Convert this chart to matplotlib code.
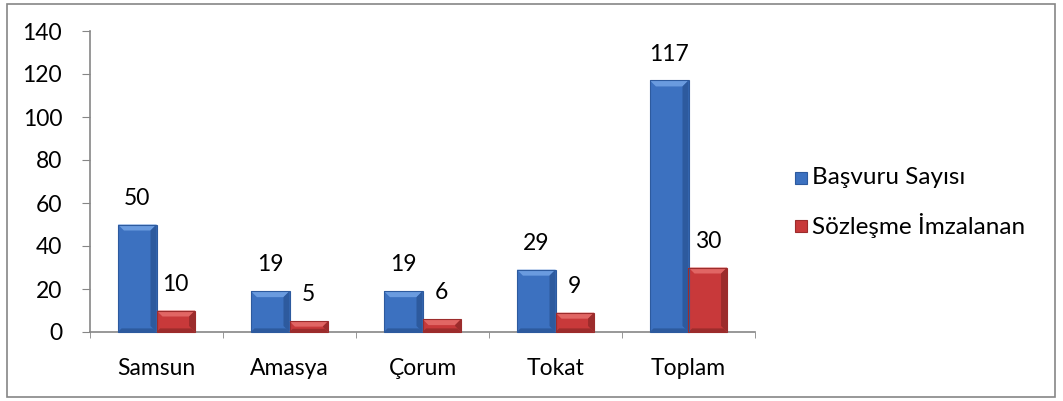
import numpy as np
import matplotlib.pyplot as plt
from matplotlib.patches import Polygon, Rectangle
from matplotlib.transforms import IdentityTransform

plt.rcParams['font.family'] = ['Lato', 'DejaVu Sans']

iller = ["Samsun", "Amasya", "Çorum", "Tokat", "Toplam"]
basvuru = [50, 19, 19, 29, 117]
sozlesme = [10, 5, 6, 9, 30]
seriler = ["Başvuru Sayısı", "Sözleşme İmzalanan"]
yticks = [0, 20, 40, 60, 80, 100, 120, 140]

# base, light (top bevel), dark (side bevel)
mavi = ("#3C71C0", "#6A9BDF", "#2D5A9E")
kirmizi = ("#C8393A", "#E16664", "#9C2C2C")
FS = 16.5

fig = plt.figure(figsize=(10.63, 4.01), dpi=100)
fig.patches.append(Rectangle((7 / 1063, 4 / 401), 1048 / 1063, 393 / 401,
                             transform=fig.transFigure, fill=False,
                             edgecolor="#868686", linewidth=1.2))
ax = fig.add_axes([90 / 1063, (401 - 332) / 401, 665 / 1063, 301 / 401])

x = np.arange(len(iller))
w = 0.29
b1 = ax.bar(x - w / 2, basvuru, w, color=mavi[0], zorder=2)
b2 = ax.bar(x + w / 2, sozlesme, w, color=kirmizi[0], zorder=2)

ax.set_xlim(-0.5, len(iller) - 0.5)
ax.set_ylim(0, 140)
ax.set_yticks(yticks)
ax.set_xticks(x)
ax.set_xticklabels(iller)
ax.set_xticks(np.arange(len(iller) + 1) - 0.5, minor=True)
ax.tick_params(axis="y", direction="out", length=6, color="#868686",
               labelsize=FS, pad=14)
ax.tick_params(axis="x", which="major", length=0, labelsize=FS, pad=19)
ax.tick_params(axis="x", which="minor", direction="out", length=4.5,
               color="#868686")
for s in ["top", "right"]:
    ax.spines[s].set_visible(False)
for s in ["left", "bottom"]:
    ax.spines[s].set_color("#868686")
    ax.spines[s].set_linewidth(1.2)

fig.canvas.draw()


def bevel(bars, renk, d=6):
    for b in bars:
        x0, y0, x1, y1 = b.get_window_extent().extents
        dd = min(d, (y1 - y0) / 2, (x1 - x0) / 2)
        parcalar = [
            ([(x0, y1), (x1, y1), (x1 - dd, y1 - dd), (x0 + dd, y1 - dd)], renk[1]),
            ([(x1, y0), (x1, y1), (x1 - dd, y1 - dd), (x1 - dd, y0 + dd)], renk[2]),
            ([(x0, y0), (x1, y0), (x1 - dd * 0.6, y0 + dd * 0.6),
              (x0 + dd * 0.6, y0 + dd * 0.6)], renk[2]),
        ]
        for pts, c in parcalar:
            fig.patches.append(Polygon(pts, closed=True, transform=IdentityTransform(),
                                       facecolor=c, edgecolor="none", zorder=3))
        fig.patches.append(Rectangle((x0, y0), x1 - x0, y1 - y0,
                                     transform=IdentityTransform(), fill=False,
                                     edgecolor=renk[2], linewidth=0.8, zorder=4))


bevel(b1, mavi)
bevel(b2, kirmizi)

for bars, vals in [(b1, basvuru), (b2, sozlesme)]:
    for b, v in zip(bars, vals):
        ax.annotate(str(v), (b.get_x() + b.get_width() / 2, v),
                    xytext=(0, 19), textcoords="offset points",
                    ha="center", va="center", fontsize=FS)

# legend
for i, (ad, renk) in enumerate(zip(seriler, [mavi, kirmizi])):
    yy = 1 - 178 / 401 - i * 48 / 401
    fig.patches.append(Rectangle((795 / 1063, yy - 6 / 401), 12 / 1063, 12 / 401,
                                 transform=fig.transFigure, facecolor=renk[0],
                                 edgecolor=renk[2], linewidth=0.8))
    fig.text(812 / 1063, yy, ad, fontsize=17.5, va="center", ha="left")

fig.savefig("out.png", dpi=100)
